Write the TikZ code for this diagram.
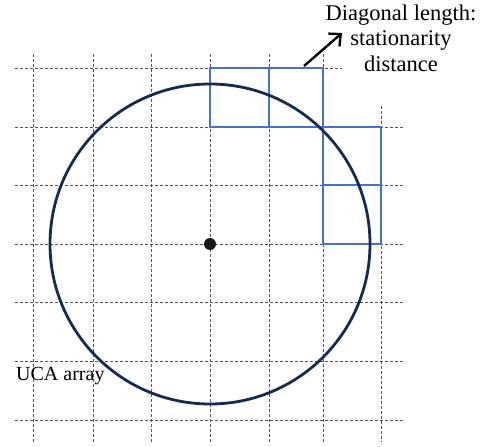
\documentclass[tikz,border=0pt]{standalone}
\usepackage{fontspec}
\setmainfont{Liberation Serif}
\usetikzlibrary{arrows.meta}
\definecolor{cellblue}{RGB}{68,114,196}
\definecolor{ringnavy}{RGB}{22,43,79}
\definecolor{gridgray}{RGB}{85,85,85}
\tikzset{
  gridline/.style={gridgray,line width=1pt,dash pattern=on 3pt off 2pt},
  cell/.style={cellblue,line width=2.2pt},
  label/.style={font=\fontsize{20}{25}\selectfont,inner sep=0pt}
}
\begin{document}
\begin{tikzpicture}[x=1pt,y=-1pt]
	\useasboundingbox (0,0) rectangle (485,447);
	% dashed grid
	\foreach \y in {127,185,244,302,361,420}
		\draw[gridline] (15,\y) -- (403,\y);
	\draw[gridline] (15,68) -- (342,68);
	\foreach \x in {33,93,151,210,269,323}
		\draw[gridline] (\x,54) -- (\x,442);
	\draw[gridline] (381,106) -- (381,442);
	% cells along the ring
	\draw[cell] (210,68) rectangle (269,127);
	\draw[cell] (269,68) rectangle (323,127);
	\draw[cell] (323,127) rectangle (381,185);
	\draw[cell] (323,185) rectangle (381,244);
	% array ring and centre
	\draw[ringnavy,line width=2.8pt] (210,244) circle (160pt);
	\fill[black!90] (210,244) circle (6pt);
	% labels
	\node[label,font=\fontsize{22.5}{25.5}\selectfont,align=center] (diag) at (401,38) {Diagonal length:\\stationarity\\distance};
	\node[label,anchor=west] (uca) at (16,376) {UCA array};
	\coordinate (tail) at (304,66);
	\coordinate (head) at (342,33);
	\draw[line width=2.4pt,-{Straight Barb[length=9pt,width=17pt]}] (tail) -- (head);
\end{tikzpicture}
\end{document}
